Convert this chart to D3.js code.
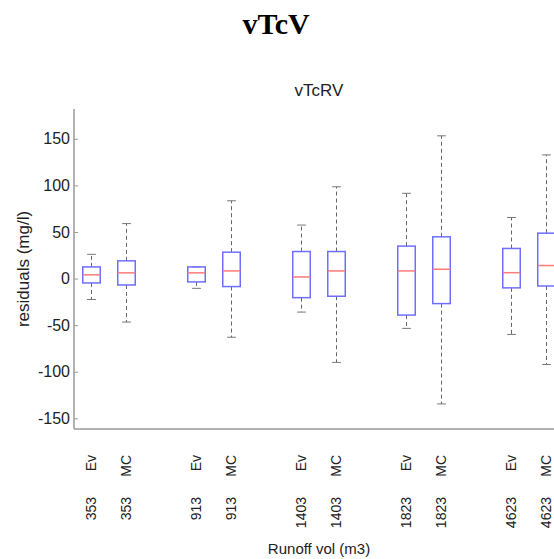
<!DOCTYPE html>
<html>
<head>
<meta charset="utf-8">
<script src="https://cdnjs.cloudflare.com/ajax/libs/d3/7.8.5/d3.min.js"></script>
<style>
  body { margin: 0; background: #fff; }
  svg { display: block; }
  text { font-family: Arial, "Liberation Sans", Helvetica, sans-serif; fill: #222; }
</style>
</head>
<body>
<div id="chart"></div>
<script>
// run-off volumes (m3) and the two methods compared at each one
const volumes = ["353", "913", "1403", "1823", "4623"];
const methods = ["Ev", "MC"];

// box statistics, order: 353 Ev, 353 MC, 913 Ev, 913 MC, ...
const lowWhisk  = [-22.5, -46.7, -10.5, -63, -36, -90, -53.5, -134.6, -60, -92.3];
const q1        = [-4.7, -6.9, -3.6, -8.6, -20.5, -19, -39.2, -26.9, -10, -8];
const med       = [4, 6.1, 6.1, 8.2, 1.7, 8.2, 8.2, 10, 6.3, 14];
const q3        = [12.5, 19, 12.5, 28.3, 29, 29, 34.8, 44.8, 32.3, 48.7];
const highWhisk = [26, 59, 12.5, 83.5, 57.4, 98.5, 91.5, 153.2, 65.5, 132.7];

const yTicks = [-150, -100, -50, 0, 50, 100, 150];

const width = 554, height = 559;
const plotLeft = 74, plotRight = 564, plotTop = 109, plotBottom = 429;

const boxes = [];
volumes.forEach((v, g) => {
  methods.forEach((m, j) => {
    const i = g * methods.length + j;
    boxes.push({
      vol: v, method: m, pos: g * 3 + j + 1,
      lo: lowWhisk[i], q1: q1[i], med: med[i], q3: q3[i], hi: highWhisk[i]
    });
  });
});

const svg = d3.select("#chart").append("svg")
  .attr("width", width)
  .attr("height", height);

const x = d3.scaleLinear().domain([0.5, 14.5]).range([plotLeft, plotRight]);
const y = d3.scaleLinear().domain([-161.5, 182]).range([plotBottom, plotTop]);

const unit = x(1) - x(0);
const boxW = unit * 0.5;
const capW = unit * 0.25;

// titles
svg.append("text")
  .attr("x", 276)
  .attr("y", 34)
  .attr("text-anchor", "middle")
  .style("font-family", "'Liberation Serif', 'Times New Roman', serif")
  .style("font-weight", "bold")
  .style("font-size", "30px")
  .style("fill", "#000")
  .text("vTcV");

svg.append("text")
  .attr("x", (plotLeft + plotRight) / 2)
  .attr("y", 96)
  .attr("text-anchor", "middle")
  .style("font-size", "17px")
  .text("vTcRV");

// y axis
const yAxis = d3.axisLeft(y)
  .tickValues(yTicks)
  .tickFormat(d => String(d))
  .tickSize(-4)
  .tickPadding(4);

const gy = svg.append("g")
  .attr("transform", "translate(" + plotLeft + ",0)")
  .call(yAxis);
gy.select(".domain").remove();
gy.selectAll(".tick line").attr("stroke", "#999");
gy.selectAll(".tick text")
  .style("font-size", "16px")
  .style("font-family", "Arial, 'Liberation Sans', sans-serif")
  .attr("fill", "#222");

svg.append("line")
  .attr("x1", plotLeft).attr("x2", plotLeft)
  .attr("y1", plotTop).attr("y2", plotBottom)
  .attr("stroke", "#999")
  .attr("stroke-width", 1.5);

svg.append("line")
  .attr("x1", plotLeft).attr("x2", plotRight)
  .attr("y1", plotBottom).attr("y2", plotBottom)
  .attr("stroke", "#999")
  .attr("stroke-width", 1.5);

// boxes
const gb = svg.append("g").selectAll("g")
  .data(boxes)
  .enter()
  .append("g");

gb.append("line")
  .attr("x1", d => x(d.pos)).attr("x2", d => x(d.pos))
  .attr("y1", d => y(d.q3)).attr("y2", d => y(d.hi))
  .attr("stroke", "#666")
  .attr("stroke-dasharray", "4,3");

gb.append("line")
  .attr("x1", d => x(d.pos)).attr("x2", d => x(d.pos))
  .attr("y1", d => y(d.q1)).attr("y2", d => y(d.lo))
  .attr("stroke", "#666")
  .attr("stroke-dasharray", "4,3");

gb.append("line")
  .attr("x1", d => x(d.pos) - capW / 2).attr("x2", d => x(d.pos) + capW / 2)
  .attr("y1", d => y(d.hi)).attr("y2", d => y(d.hi))
  .attr("stroke", "#777");

gb.append("line")
  .attr("x1", d => x(d.pos) - capW / 2).attr("x2", d => x(d.pos) + capW / 2)
  .attr("y1", d => y(d.lo)).attr("y2", d => y(d.lo))
  .attr("stroke", "#777");

gb.append("rect")
  .attr("x", d => x(d.pos) - boxW / 2)
  .attr("y", d => y(d.q3))
  .attr("width", boxW)
  .attr("height", d => y(d.q1) - y(d.q3))
  .attr("fill", "none")
  .attr("stroke", "#6f6fff")
  .attr("stroke-width", 1.5);

gb.append("line")
  .attr("x1", d => x(d.pos) - boxW / 2).attr("x2", d => x(d.pos) + boxW / 2)
  .attr("y1", d => y(d.med)).attr("y2", d => y(d.med))
  .attr("stroke", "#ff7a7a")
  .attr("stroke-width", 1.5);

// x labels: method on top row, volume below, both rotated
gb.append("text")
  .attr("transform", d => "translate(" + x(d.pos) + ",455)rotate(-90)")
  .attr("text-anchor", "end")
  .attr("dy", "0.35em")
  .style("font-size", "14px")
  .text(d => d.method);

gb.append("text")
  .attr("transform", d => "translate(" + x(d.pos) + ",497)rotate(-90)")
  .attr("text-anchor", "end")
  .attr("dy", "0.35em")
  .style("font-size", "14px")
  .text(d => d.vol);

// axis titles
svg.append("text")
  .attr("transform", "translate(23," + (plotTop + plotBottom) / 2 + ")rotate(-90)")
  .attr("text-anchor", "middle")
  .attr("dy", "0.35em")
  .style("font-size", "17px")
  .text("residuals (mg/l)");

svg.append("text")
  .attr("x", 319)
  .attr("y", 554)
  .attr("text-anchor", "middle")
  .style("font-size", "15px")
  .text("Runoff vol (m3)");
</script>
</body>
</html>
